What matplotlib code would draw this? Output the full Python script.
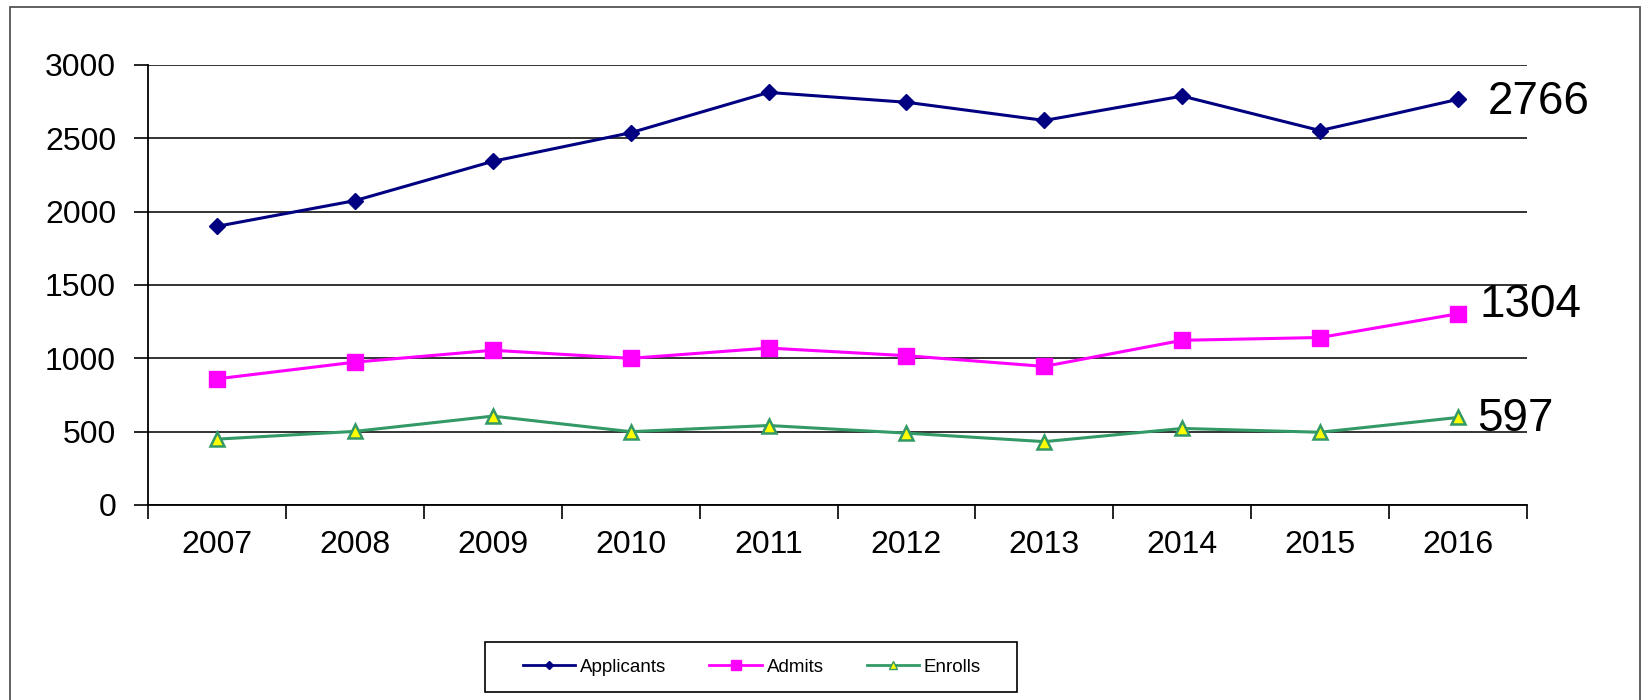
import numpy as np
import matplotlib as mpl
mpl.use("Agg")
from matplotlib import pyplot as plt
from matplotlib.lines import Line2D
from matplotlib.patches import Rectangle

plt.rcParams['font.family'] = ['Liberation Sans', 'DejaVu Sans']

# data
years = ['2007', '2008', '2009', '2010', '2011', '2012', '2013', '2014', '2015', '2016']
applicants = [1900, 2075, 2343, 2538, 2813, 2746, 2622, 2788, 2553, 2766]
admits = [860, 974, 1055, 1000, 1070, 1018, 945, 1123, 1142, 1304]
enrolls = [449, 502, 606, 500, 542, 490, 432, 522, 496, 597]
series_names = ['Applicants', 'Admits', 'Enrolls']

W, H = 1645, 700
fig = plt.figure(figsize=(W / 100, H / 100), dpi=100)
fig.patch.set_facecolor('white')

# outer chart border (bottom edge runs off the picture)
fig.add_artist(Rectangle((10 / W, -0.05), (1640 - 10) / W, (H - 7) / H + 0.05,
                         transform=fig.transFigure, fill=False,
                         edgecolor='#555555', lw=1.3))

# axes placed by pixel measurements
left, right, top, bottom = 148, 1527, 65, 505
ax = fig.add_axes([left / W, (H - bottom) / H, (right - left) / W, (bottom - top) / H])

x = np.arange(len(years))
navy = '#000080'
magenta = '#FF00FF'
green = '#339966'

ax.plot(x, applicants, color=navy, lw=2.2, marker='D', ms=8.5, mec=navy, mfc=navy, zorder=4)
ax.plot(x, admits, color=magenta, lw=2.2, marker='s', ms=11, mec=magenta, mfc=magenta, zorder=4)
ax.plot(x, enrolls, color=green, lw=2.2, marker='^', ms=10.5, mec=green, mfc='#FFFF00', mew=1.8, zorder=4)

ax.set_xlim(-0.5, len(years) - 0.5)
ax.set_ylim(0, 3000)

# boundaries between categories get tick marks, labels sit in the middle
ax.set_xticks(np.arange(-0.5, len(years), 1.0))
ax.set_xticklabels([])
ax.set_xticks(x, minor=True)
ax.set_xticklabels(years, minor=True)
ax.tick_params(axis='x', which='major', direction='out', length=10, width=1.2, color='black')
ax.tick_params(axis='x', which='minor', length=0, pad=18, labelsize=23)

ax.set_yticks(np.arange(0, 3001, 500))
ax.tick_params(axis='y', direction='out', length=10, width=1.2, pad=13, labelsize=23)

ax.grid(axis='y', color='#333333', lw=1.4, zorder=1)
ax.set_axisbelow(True)
for s in ['top', 'right']:
    ax.spines[s].set_visible(False)
for s in ['left', 'bottom']:
    ax.spines[s].set_color('black')
    ax.spines[s].set_linewidth(1.3)
ax.spines['bottom'].set_zorder(3)

# end-of-line value labels
last = len(years) - 1
ax.annotate(str(applicants[-1]), xy=(last, applicants[-1]), xytext=(30, -3),
            textcoords='offset pixels', va='center', ha='left', fontsize=33)
ax.annotate(str(admits[-1]), xy=(last, admits[-1]), xytext=(21, 9),
            textcoords='offset pixels', va='center', ha='left', fontsize=33)
ax.annotate(str(enrolls[-1]), xy=(last, enrolls[-1]), xytext=(19, -2),
            textcoords='offset pixels', va='center', ha='left', fontsize=33)

# legend with a separately drawn box
handles = [
    Line2D([], [], color=navy, lw=2, marker='D', ms=4.5, mec=navy, mfc=navy),
    Line2D([], [], color=magenta, lw=2, marker='s', ms=7, mec=magenta, mfc=magenta),
    Line2D([], [], color=green, lw=2, marker='^', ms=6, mec=green, mfc='#FFFF00', mew=1),
]
fig.legend(handles, series_names, loc='center', ncol=3, frameon=False,
           bbox_to_anchor=(752 / W, (H - 667) / H), fontsize=13.5,
           handlelength=2.8, handletextpad=0.25, columnspacing=2.3)
fig.add_artist(Rectangle((485 / W, (H - 692) / H), (1017 - 485) / W, 50 / H,
                         transform=fig.transFigure, fill=False,
                         edgecolor='black', lw=1.2))

fig.savefig('out.png', dpi=100, facecolor='white')
